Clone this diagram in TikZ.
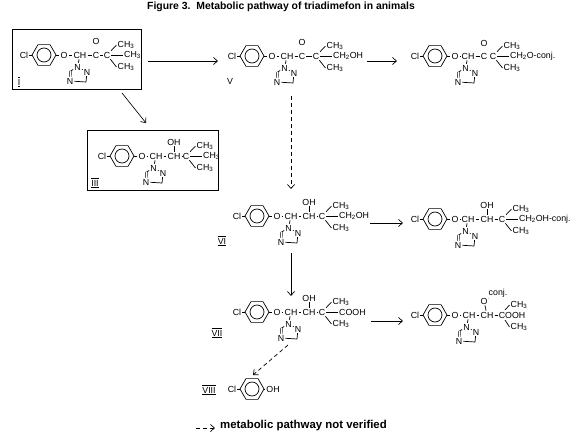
\documentclass[tikz,border=0pt]{standalone}
\usepackage{fontspec}
\setmainfont{Liberation Sans}
\usetikzlibrary{positioning, shapes.geometric, arrows.meta}
\newcommand{\methyl}{CH\textsubscript{3}}
\newcommand{\romnum}[1]{$\underline{\overline{\mbox{#1}}}$}
\begin{document}
\begin{tikzpicture}[
	x=1pt, y=-1pt,
	font=\fontsize{8.8}{10}\selectfont,
	atom/.style={inner sep=1pt},
	label/.style={inner sep=0pt},
	bond/.style={line width=0.7pt},
	dbond/.style={line width=0.5pt, double, double distance=1.4pt},
	frame/.style={draw, line width=1pt, inner sep=0pt},
	arrow/.style={-{Straight Barb[length=4pt,width=7pt]}, line width=0.7pt},
	notsure/.style={arrow, dash pattern=on 4pt off 3pt},
	chlorophenyl/.pic={
		\node[draw, regular polygon, regular polygon sides=6, minimum size=24pt, inner sep=0pt, line width=0.7pt] (ring) at (0,0) {};
		\node[draw, circle, minimum size=14pt, inner sep=0pt, line width=0.7pt] (hole) at (0,0) {};
		\node[atom] (cl) at (-20,0) {Cl};
		\draw[bond] (cl) -- (ring.west);
	},
	ethertriazole/.pic={
		\pic (ph-) at (0,0) {chlorophenyl};
		\node[atom] (o) at (20,0) {O};
		\node[atom] (ch) at (#1,0) {CH};
		\draw[bond] (ph-ring.east) -- (o);
		\draw[bond] (o) -- (ch);
		% triazole hangs below the CH
		\node[atom] (n1) at (#1-2.5,12) {N};
		\node[atom] (n2) at (#1+7,17) {N};
		\node[atom] (n3) at (#1-10,26) {N};
		\coordinate (cleft) at (#1-9.5,16);
		\coordinate (cright) at (#1+6,27);
		\draw[bond] (ch) -- (n1);
		\draw[bond] (n1) -- (n2);
		\draw[bond] (n1) -- (cleft);
		\draw[dbond] (cleft) -- (n3);
		\draw[bond] (n3) -- (cright) -- (n2);
	},
	dimethyl/.pic={
		\node[atom] (c) at (0,0) {C};
		\node[atom] (up) at (19,-10) {\methyl};
		\node[atom, anchor=west] (mid) at (16,0) {#1};
		\node[atom] (low) at (19,12) {\methyl};
		\draw[bond] (c) -- (up.west);
		\draw[bond] (c) -- (mid);
		\draw[bond] (c) -- (low.west);
	}
	]
	\useasboundingbox (0,0) rectangle (575,436);

	\node[font=\bfseries\fontsize{10.4}{11}\selectfont] (title) at (281,7) {Figure 3.\ \ Metabolic pathway of triadimefon in animals};

	% Boxes
	\node[frame, minimum width=129pt, minimum height=59pt] (boxone) at (77,59.5) {};
	\node[frame, minimum width=131pt, minimum height=60pt] (boxthree) at (153,160) {};

	% Compound I
	\pic (a-) at (44,55) {ethertriazole=36};
	\node[atom] (a-co) at (96,55) {C};
	\node[atom] (a-oxo) at (96,41) {O};
	\pic (a-) at (107,55) {dimethyl=\methyl};
	\draw[bond] (a-ch) -- (a-co);
	\draw[bond] (a-co) -- (a-c);
	\draw[dbond] (a-co) -- (a-oxo);
	\node[label] (lone) at (19,82) {\romnum{I}};

	% Compound III
	\pic (b-) at (122,156) {ethertriazole=34};
	\node[atom] (b-choh) at (174,156) {CH};
	\node[atom] (b-oh) at (174,142) {OH};
	\pic (b-) at (186,156) {dimethyl=\methyl};
	\draw[bond] (b-ch) -- (b-choh);
	\draw[bond] (b-choh) -- (b-c);
	\draw[bond] (b-choh) -- (b-oh);
	\node[label] (lthree) at (95,183) {\romnum{III}};

	% Compound V
	\pic (e-) at (252,56) {ethertriazole=35};
	\node[atom] (e-co) at (302,56) {C};
	\node[atom] (e-oxo) at (302,42) {O};
	\pic (e-) at (316,56) {dimethyl=CH\textsubscript{2}OH};
	\draw[bond] (e-ch) -- (e-co);
	\draw[bond] (e-co) -- (e-c);
	\draw[dbond] (e-co) -- (e-oxo);
	\node[label] (lfive) at (230,81) {V};

	% V conjugate
	\pic (f-) at (435,56) {ethertriazole=33};
	\node[atom] (f-co) at (484,56) {C};
	\node[atom] (f-oxo) at (484,43) {O};
	\pic (f-) at (493,56) {dimethyl=CH\textsubscript{2}O-conj.};
	\draw[bond] (f-ch) -- (f-co);
	\draw[dbond] (f-co) -- (f-oxo);

	% Compound VI
	\pic (g-) at (257,216) {ethertriazole=34};
	\node[atom] (g-choh) at (309,216) {CH};
	\node[atom] (g-oh) at (309,202) {OH};
	\pic (g-) at (322,216) {dimethyl=CH\textsubscript{2}OH};
	\draw[bond] (g-ch) -- (g-choh);
	\draw[bond] (g-choh) -- (g-c);
	\draw[bond] (g-choh) -- (g-oh);
	\node[label] (lsix) at (222,241) {\romnum{VI}};

	% VI conjugate
	\pic (h-) at (435,219) {ethertriazole=33};
	\node[atom] (h-choh) at (487,219) {CH};
	\node[atom] (h-oh) at (487,205) {OH};
	\pic (h-) at (502,219) {dimethyl=CH\textsubscript{2}OH-conj.};
	\draw[bond] (h-ch) -- (h-choh);
	\draw[bond] (h-choh) -- (h-c);
	\draw[bond] (h-choh) -- (h-oh);

	% Compound VII
	\pic (k-) at (257,312) {ethertriazole=34};
	\node[atom] (k-choh) at (309,312) {CH};
	\node[atom] (k-oh) at (309,298) {OH};
	\pic (k-) at (322,312) {dimethyl=COOH};
	\draw[bond] (k-ch) -- (k-choh);
	\draw[bond] (k-choh) -- (k-c);
	\draw[bond] (k-choh) -- (k-oh);
	\node[label] (lseven) at (217,333) {\romnum{VII}};

	% VII conjugate
	\pic (m-) at (435,315) {ethertriazole=34};
	\node[atom] (m-choh) at (487,315) {CH};
	\node[atom] (m-o) at (484,301) {O};
	\node[atom] (m-conj) at (498,293) {conj.};
	\node[atom] (m-cooh) at (512,315) {COOH};
	\node[atom] (m-up) at (519,305) {\methyl};
	\node[atom] (m-low) at (519,327) {\methyl};
	\coordinate (m-cup) at (505,310);
	\coordinate (m-clow) at (505,320);
	\draw[bond] (m-ch) -- (m-choh);
	\draw[bond] (m-choh) -- (m-cooh);
	\draw[bond] (m-choh) -- (m-o);
	\draw[bond] (m-o) -- (m-conj);
	\draw[bond] (m-cup) -- (m-up.west);
	\draw[bond] (m-clow) -- (m-low.west);

	% Compound VIII
	\pic (p-) at (252,389) {chlorophenyl};
	\node[atom] (p-oh) at (273,389) {OH};
	\draw[bond] (p-ring.east) -- (p-oh);
	\node[label] (leight) at (209,390) {\romnum{VIII}};

	% Arrow ends
	\coordinate (a1) at (148,61);
	\coordinate (a2) at (218,61);
	\coordinate (b1) at (122,93);
	\coordinate (b2) at (146,123);
	\coordinate (c1) at (367,61);
	\coordinate (c2) at (397,61);
	\coordinate (d1) at (291,96);
	\coordinate (d2) at (291,189);
	\coordinate (f1) at (370,223);
	\coordinate (f2) at (403,223);
	\coordinate (g1) at (291,253);
	\coordinate (g2) at (291,296);
	\coordinate (h1) at (371,321);
	\coordinate (h2) at (403,321);
	\coordinate (k1) at (288,345);
	\coordinate (k2) at (253,375);
	\coordinate (n1) at (196,428);
	\coordinate (n2) at (215,428);

	\draw[arrow] (a1) -- (a2);
	\draw[arrow] (b1) -- (b2);
	\draw[arrow] (c1) -- (c2);
	\draw[notsure] (d1) -- (d2);
	\draw[arrow] (f1) -- (f2);
	\draw[arrow] (g1) -- (g2);
	\draw[arrow] (h1) -- (h2);
	\draw[notsure] (k1) -- (k2);

	% Legend
	\node[font=\bfseries\fontsize{11.4}{12}\selectfont, anchor=west, inner sep=0pt] (note) at (220,426) {metabolic pathway not verified};
	\draw[notsure] (n1) -- (n2);
\end{tikzpicture}
\end{document}
